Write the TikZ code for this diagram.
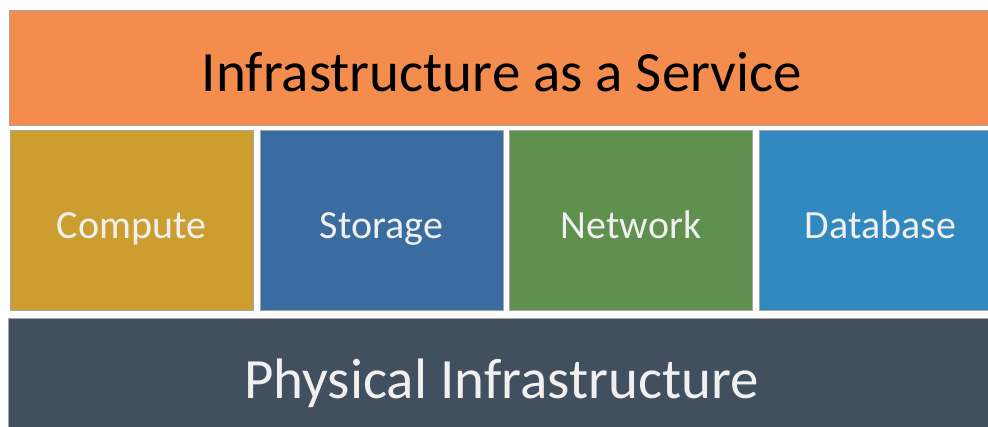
\documentclass[tikz,border=0pt]{standalone}
\usepackage{fontspec}
\setmainfont{Carlito}

\definecolor{iaasorange}{HTML}{F48C4E}
\definecolor{computegold}{HTML}{CC9E30}
\definecolor{storageblue}{HTML}{3A6BA1}
\definecolor{networkgreen}{HTML}{60904D}
\definecolor{databaseblue}{HTML}{3289C0}
\definecolor{physslate}{HTML}{414F5E}

\begin{document}
\begin{tikzpicture}[
        x=1pt, y=1pt,
        layer/.style={
            rectangle,
            draw=black!35,
            line width=0.8pt,
            minimum width=986pt,
            inner sep=0pt,
            text depth=0pt,
            font=\fontsize{57}{68}\selectfont
        },
        module/.style={
            rectangle,
            draw=black!35,
            line width=0.8pt,
            minimum width=243pt,
            minimum height=180pt,
            inner sep=0pt,
            text height=38pt,
            text depth=0pt,
            text=white!94!black,
            font=\fontsize{40}{48}\selectfont
        }
    ]

        \useasboundingbox (0,0) rectangle (988,427);

        \node[layer, fill=iaasorange, minimum height=115pt, text height=49pt] (iaas) at (502,359.5) {Infrastructure as a Service};

        \node[module, fill=computegold] (compute) at (131.5,207) {Compute};
        \node[module, fill=storageblue] (storage) at (381.5,207) {Storage};
        \node[module, fill=networkgreen] (network) at (631,207) {Network};
        \node[module, fill=databaseblue] (database) at (880.5,207) {Database};

        \node[layer, fill=physslate, minimum height=122pt, text height=40pt, text=white!94!black] (physical) at (501.5,48) {Physical Infrastructure};

    \end{tikzpicture}
\end{document}
